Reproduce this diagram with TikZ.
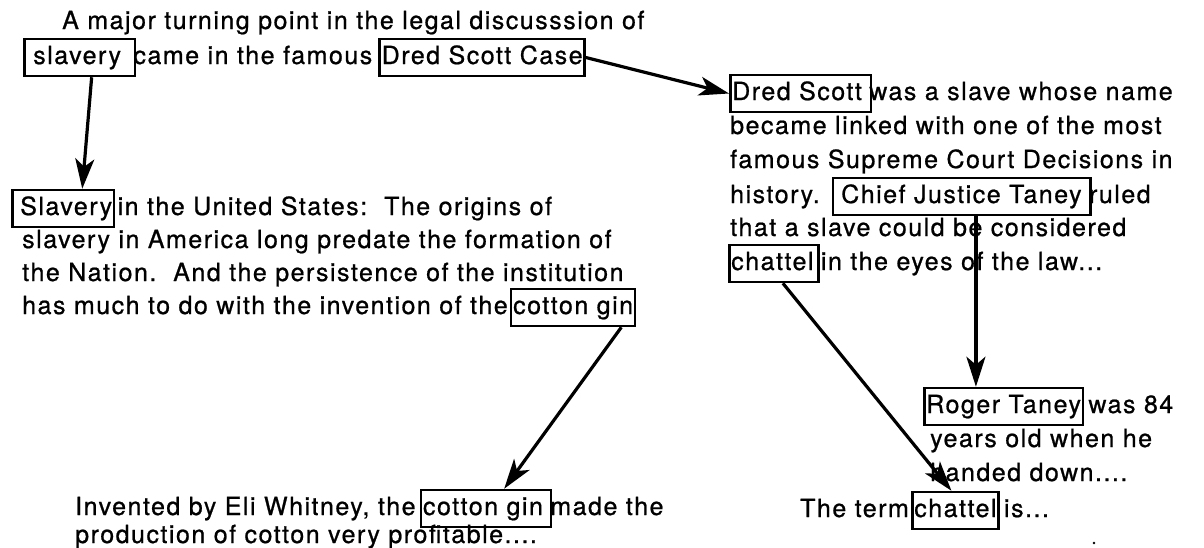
\documentclass[tikz,border=0pt]{standalone}
\usepackage{fontspec}
\setmainfont[LetterSpace=6,FakeBold=0.8]{TeX Gyre Heros}
\usetikzlibrary{arrows.meta}
\usetikzlibrary{positioning}

\tikzset{
  txt/.style={anchor=base west, inner sep=0pt, font=\fontsize{25}{30}\selectfont},
  word/.style={txt, draw, line width=2.5pt, inner xsep=2pt, inner ysep=7pt,
               text height=18pt, text depth=5pt},
  link/.style={->, >={Stealth[length=30pt,width=19pt,inset=8pt]}, line width=3.2pt}
}

\begin{document}
\begin{tikzpicture}[x=1pt,y=-1pt]
        \useasboundingbox (0,0) rectangle (1204,547);

        %Left paragraph
          \node [txt] (la1) at (62,29) {A major turning point in the legal discusssion of};
          \node [word] (slaveryA) at (23,64) {\kern7pt slavery\kern12pt};
          \node [txt] (la2) at ([xshift=-3pt]slaveryA.base east) {came in the famous};
          \node [word] (dsCase) at ([xshift=6pt]la2.base east) {Dred Scott Case};

          \node [word] (slaveryB) at (11,215) {\kern6pt Slavery};
          \node [txt] (lb1) at ([xshift=2pt]slaveryB.base east) {in the United States:\ \ The origins of};
          \node [txt] (lb2) at (22,248) {slavery in America long predate the formation of};
          \node [txt] (lb3) at (22,281) {the Nation.\ \ And the persistence of the institution};
          \node [txt] (lb4) at (22,314) {has much to do with the invention of the};
          \node [word] (ginA) at ([xshift=2pt]lb4.base east) {cotton gin};

          \node [txt] (lc1) at (75,515) {Invented by Eli Whitney, the};
          \node [word] (ginB) at ([xshift=4pt]lc1.base east) {cotton gin\kern6pt};
          \node [txt] (lc2) at ([xshift=-2pt]ginB.base east) {made the};
          \node [txt] (lc3) at (75,543) {production of cotton very profitable....};

        %Right paragraph
          \node [word] (dScott) at (729,100) {Dred Scott\kern7pt};
          \node [txt] (ra1) at ([xshift=-3pt]dScott.base east) {was a slave whose name};
          \node [txt] (ra2) at (730,134) {became linked with one of the most};
          \node [txt] (ra3) at (730,168) {famous Supreme Court Decisions in};
          \node [txt] (ra4) at (730,203) {history.};
          \node [word] (taney) at ([xshift=12pt]ra4.base east) {\kern6pt Chief Justice Taney\kern7pt};
          \node [txt] (ra5) at ([xshift=-3pt]taney.base east) {ruled};
          \node [txt] (ra6) at (730,236) {that a slave could be considered};
          \node [word] (chattelA) at (728,270) {chattel\kern3pt};
          \node [txt] (ra7) at ([xshift=1pt]chattelA.base east) {in the eyes of the law...};

          \node [word] (roger) at (923,413) {Roger Taney};
          \node [txt] (rb1) at ([xshift=4pt]roger.base east) {was 84};
          \node [txt] (rb2) at (930,447) {years old when he};
          \node [txt] (rb3) at (930,481) {handed down....};

          \node [txt] (rc1) at (800,517) {The term};
          \node [word] (chattelB) at ([xshift=2pt]rc1.base east) {chattel};
          \node [txt] (rc2) at ([xshift=4pt]chattelB.base east) {is...};

        %Fleches
        \draw [link] ([xshift=12pt]slaveryA.south) -- ([xshift=19pt]slaveryB.north);
        \draw [link] (dsCase.east) -- (dScott.west);
        \draw [link] ([xshift=-15pt]ginA.south east) -- ([xshift=-48pt]ginB.north east);
        \draw [link] ([xshift=14pt]taney.south) -- ([xshift=14pt]taney.south |- roger.north);
        \draw [link] ([xshift=9pt]chattelA.south) -- ([xshift=-4pt]chattelB.north);

        \fill (1094,543) circle (1.3);
\end{tikzpicture}
\end{document}
